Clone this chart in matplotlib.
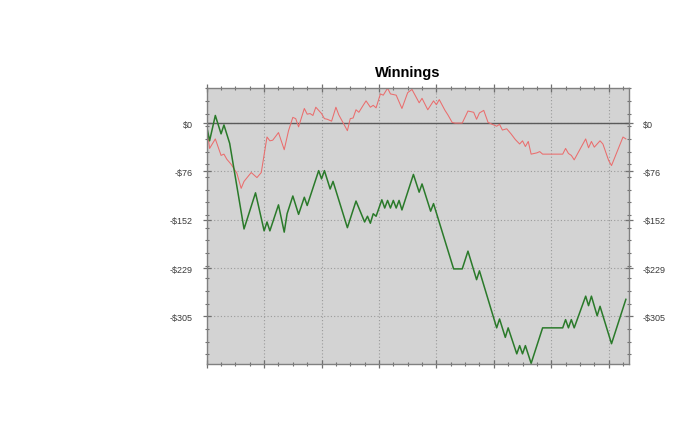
import matplotlib
matplotlib.use("Agg")
import matplotlib.pyplot as plt
from matplotlib.ticker import FixedLocator, FuncFormatter

# hand index / winnings ($) at each turn of the line
green_x = [0, 1, 3, 5, 6, 8, 13, 17, 20, 21, 22, 25, 27, 28, 30, 32, 34, 35,
           39, 40, 41, 43, 44, 49, 52, 55, 56, 57, 58, 59, 61, 62, 63, 64, 65,
           66, 67, 68, 72, 74, 75, 78, 79, 86, 89, 91, 94, 95, 101, 102, 104,
           105, 108, 109, 110, 111, 113, 117, 124, 125, 126, 127, 128, 132,
           133, 134, 136, 137, 141, 146]
green_y = [-5, -28, 12, -17, -3, -32, -167, -110, -170, -156, -170, -129,
           -172, -143, -115, -144, -117, -130, -75, -88, -75, -104, -92, -165,
           -123, -156, -147, -158, -143, -147, -121, -134, -122, -134, -122,
           -134, -122, -137, -81, -109, -96, -139, -127, -230, -230, -202,
           -247, -233, -323, -309, -338, -323, -364, -351, -364, -351, -379,
           -323, -323, -310, -323, -310, -323, -273, -288, -273, -304, -289,
           -348, -278]

red_x = [0, 1, 3, 5, 6, 7, 8.5, 10.5, 12, 13, 15.5, 17.5, 19, 21, 22, 23, 25,
         27, 28.5, 30, 31, 32, 34, 35, 36, 37, 38, 40, 41, 42, 43.5, 45, 46,
         49, 50, 51, 52, 53, 54.5, 55.5, 57, 58, 59, 60.5, 61.5, 63, 64, 66,
         68, 70, 71.5, 74, 75, 77, 79, 80, 81, 83, 84, 85.5, 86.5, 89, 91, 93,
         94, 95, 96.5, 98, 100, 101, 102, 103, 104.5, 106, 107.5, 109, 110,
         111, 112, 113, 115, 116, 117, 124, 125, 126, 127, 128, 132, 133, 134,
         135, 137, 138, 140, 141, 145, 146]
red_y = [-5, -40, -25, -51, -49, -57, -65, -79, -103, -92, -78, -86, -78, -22,
         -28, -27, -15, -42, -12, 9, 7, -6, 23, 14, 15, 12, 25, 15, 7, 6, 3,
         25, 13, -12, 7, 8, 21, 17, 28, 35, 25, 28, 24, 46, 44, 55, 46, 44,
         23, 48, 53, 32, 39, 21, 35, 29, 37, 20, 13, 1, 0, 0, 19, 17, 6, 16,
         20, 1, -3, -5, -2, -11, -9, -17, -26, -33, -28, -37, -29, -49, -47,
         -45, -49, -49, -40, -48, -51, -58, -25, -39, -29, -38, -28, -33, -59,
         -67, -22, -25]

y_major = [0, -76.25, -152.5, -228.75, -305]
y_minor = [55 - 20 * k for k in range(22)]
x_major = list(range(0, 141, 20))
x_minor = list(range(0, 147, 5))

fig = plt.figure(figsize=(7, 4.27), dpi=100)
ax = fig.add_axes([0.2953, 0.1452, 0.6029, 0.6459])
ax.set_facecolor("#d3d3d3")

ax.plot(red_x, red_y, color="#ea6d6d", linewidth=0.75)
ax.plot(green_x, green_y, color="#2a7a2a", linewidth=1.1)
ax.axhline(0, color="#5a5a5a", linewidth=1.0, zorder=1.5)

ax.set_xlim(0, 147)
ax.set_ylim(-380, 55)

ax.xaxis.set_major_locator(FixedLocator(x_major))
ax.xaxis.set_minor_locator(FixedLocator(x_minor))
ax.yaxis.set_major_locator(FixedLocator(y_major))
ax.yaxis.set_minor_locator(FixedLocator(y_minor))
ax.xaxis.set_major_formatter(FuncFormatter(lambda v, p: ""))


def money(v, pos):
    n = int(round(v))
    return "$0" if n == 0 else "-$%d" % abs(n)


ax.yaxis.set_major_formatter(FuncFormatter(money))

ax.grid(True, which="major", color="#9a9a9a", linestyle=(0, (1, 2)), linewidth=0.8)
ax.set_axisbelow(True)

ax.tick_params(which="both", direction="inout", color="#707070",
               top=True, right=True, labelright=True)
ax.tick_params(which="major", length=6, width=0.9)
ax.tick_params(which="minor", length=3, width=0.8)
ax.tick_params(axis="y", which="major", pad=7, labelsize=6.5,
               labelcolor="#3a3a3a")
for lab in ax.get_yticklabels():
    lab.set_family("Liberation Sans")

for s in ax.spines.values():
    s.set_color("#808080")
    s.set_linewidth(1.0)

fig.text(0.582, 0.8197, "Winnings", ha="center", va="baseline",
         fontsize=10.5, fontweight="bold", family="Liberation Sans")

fig.savefig("out.png", dpi=100, facecolor="white")
